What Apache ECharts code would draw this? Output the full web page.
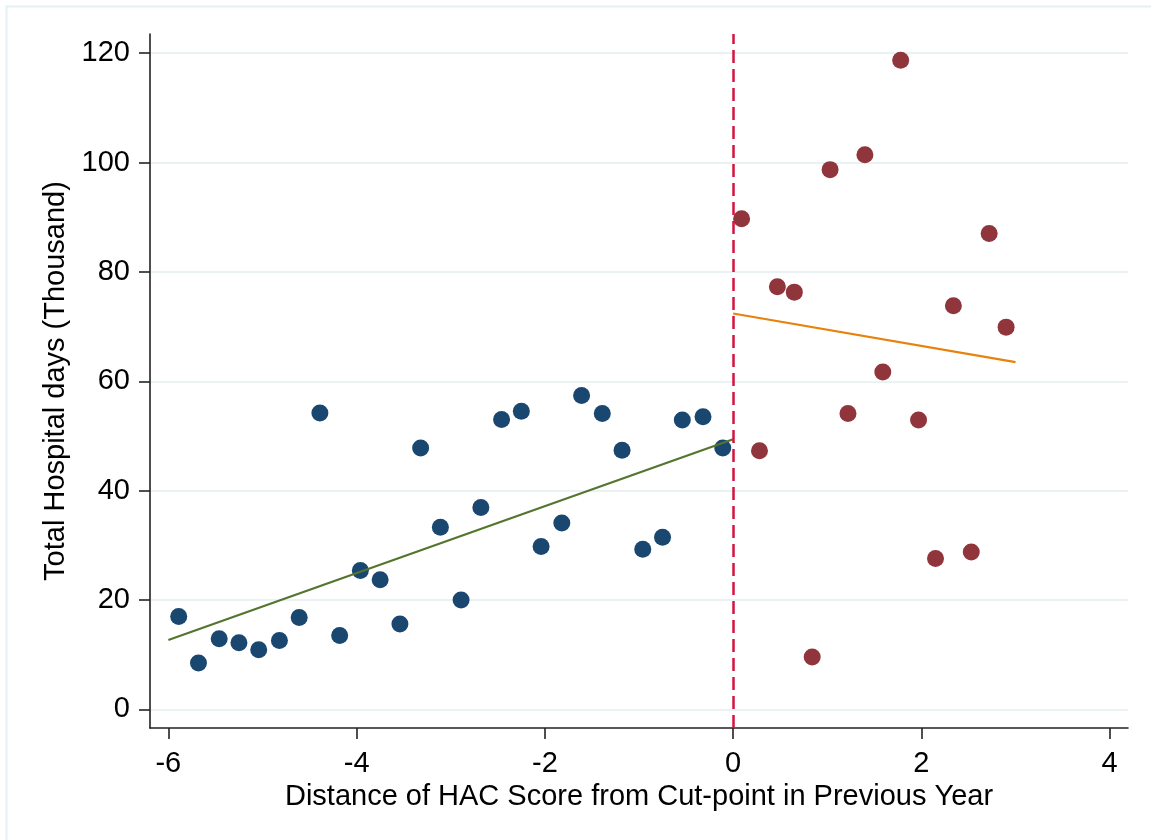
<!DOCTYPE html>
<html>
<head>
<meta charset="utf-8">
<script src="https://cdn.jsdelivr.net/npm/echarts@6/dist/echarts.min.js"></script>
<style>
  html, body { margin: 0; padding: 0; background: #ffffff; }
  #chart { width: 1151px; height: 840px; }
</style>
</head>
<body>
<div id="chart"></div>
<script>
// ---- data ----
const xTicks = [-6, -4, -2, 0, 2, 4];
const yTicks = [0, 20, 40, 60, 80, 100, 120];

// bins below the cut-point (blue)
const belowX = [-5.89, -5.68, -5.46, -5.25, -5.04, -4.82, -4.61, -4.39, -4.18, -3.96,
                -3.75, -3.54, -3.32, -3.11, -2.89, -2.68, -2.46, -2.25, -2.04, -1.82,
                -1.61, -1.39, -1.18, -0.96, -0.75, -0.54, -0.32, -0.11];
const belowY = [17.0, 8.5, 12.9, 12.2, 10.9, 12.6, 16.8, 54.2, 13.5, 25.4,
                23.7, 15.6, 47.8, 33.3, 20.0, 36.9, 53.0, 54.5, 29.8, 34.1,
                57.4, 54.1, 47.4, 29.3, 31.5, 52.9, 53.5, 47.8];

// bins above the cut-point (red)
const aboveX = [0.09, 0.28, 0.47, 0.65, 0.84, 1.03, 1.22, 1.40, 1.59, 1.78,
                1.97, 2.15, 2.34, 2.53, 2.72, 2.90];
const aboveY = [89.7, 47.3, 77.3, 76.3, 9.6, 98.7, 54.1, 101.4, 61.7, 118.7,
                52.9, 27.6, 73.8, 28.8, 87.0, 69.9];

// linear fits
const fitBelowX = [-6, 0];
const fitBelowY = [12.7, 49.4];
const fitAboveX = [0, 3];
const fitAboveY = [72.4, 63.5];

const cutPoint = 0;

const xTitle = 'Distance of HAC Score from Cut-point in Previous Year';
const yTitle = 'Total Hospital days (Thousand)';

// ---- chart ----
const zip = (xs, ys) => xs.map((x, i) => [x, ys[i]]);
const FONT = '"Liberation Sans", Arial, Helvetica, sans-serif';

const chart = echarts.init(document.getElementById('chart'), null, { renderer: 'canvas' });

chart.setOption({
  backgroundColor: '#ffffff',
  animation: false,
  graphic: [{
    type: 'rect',
    shape: { x: 6.5, y: 6.5, width: 1200, height: 900 },
    style: { fill: 'none', stroke: '#e6eff2', lineWidth: 2 },
    silent: true,
    z: -10
  }],
  grid: { left: 150, right: 23, top: 34, bottom: 112, containLabel: false },
  xAxis: {
    type: 'value',
    min: -6.195,
    max: 4.195,
    name: xTitle,
    nameLocation: 'middle',
    nameGap: 49,
    nameTextStyle: { fontFamily: FONT, fontSize: 29, color: '#000' },
    axisLine: { show: true, onZero: false, lineStyle: { color: '#222', width: 1.6 } },
    axisTick: { show: true, inside: false, length: 11, lineStyle: { color: '#222', width: 1.6 }, customValues: xTicks },
    axisLabel: { fontFamily: FONT, fontSize: 29, color: '#000', margin: 21, customValues: xTicks },
    splitLine: { show: false }
  },
  yAxis: {
    type: 'value',
    min: -3.4,
    max: 123.5,
    name: yTitle,
    nameLocation: 'middle',
    nameGap: 78,
    nameRotate: 90,
    nameTextStyle: { fontFamily: FONT, fontSize: 29, color: '#000' },
    axisLine: { show: true, onZero: false, lineStyle: { color: '#222', width: 1.6 } },
    axisTick: { show: true, inside: false, length: 11, lineStyle: { color: '#222', width: 1.6 }, customValues: yTicks },
    axisLabel: { fontFamily: FONT, fontSize: 29, color: '#000', margin: 20, customValues: yTicks },
    splitLine: { show: true, lineStyle: { color: '#eaf2f3', width: 2 } }
  },
  series: [
    {
      name: 'below',
      type: 'scatter',
      data: zip(belowX, belowY),
      symbol: 'circle',
      symbolSize: 17,
      itemStyle: { color: '#1a476f', opacity: 1 },
      z: 3
    },
    {
      name: 'above',
      type: 'scatter',
      data: zip(aboveX, aboveY),
      symbol: 'circle',
      symbolSize: 17,
      itemStyle: { color: '#90353b', opacity: 1 },
      z: 3
    },
    {
      name: 'fitBelow',
      type: 'line',
      data: zip(fitBelowX, fitBelowY),
      showSymbol: false,
      symbol: 'none',
      lineStyle: { color: '#55752f', width: 2.2 },
      z: 4
    },
    {
      name: 'fitAbove',
      type: 'line',
      data: zip(fitAboveX, fitAboveY),
      showSymbol: false,
      symbol: 'none',
      lineStyle: { color: '#e8820c', width: 2.2 },
      z: 4,
      markLine: {
        silent: true,
        symbol: ['none', 'none'],
        label: { show: false },
        lineStyle: { color: '#d3143f', width: 2.5, type: [13, 6] },
        data: [{ xAxis: cutPoint }],
        z: 5
      }
    }
  ]
});
</script>
</body>
</html>
